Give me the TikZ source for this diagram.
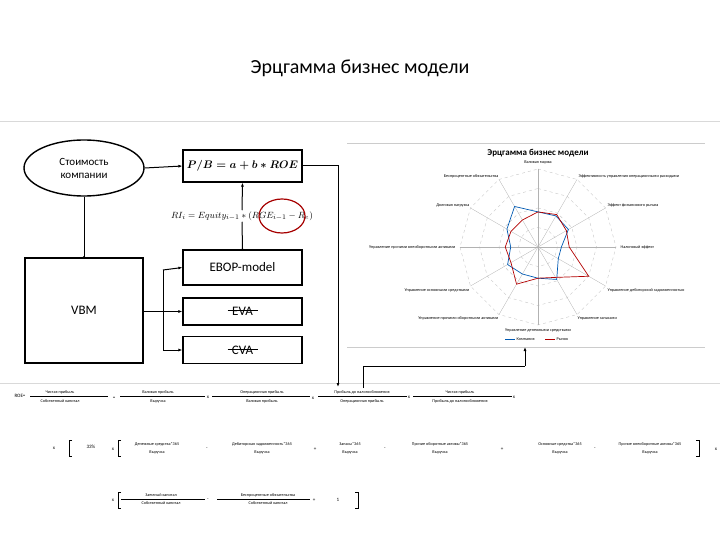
\documentclass[tikz,border=0pt]{standalone}
\usepackage{fontspec}
\setmainfont{Carlito}
\usetikzlibrary{shapes.geometric,arrows.meta}
\begin{document}
\begin{tikzpicture}[x=1pt,y=-1pt,
  box/.style={draw,line width=1.2pt,minimum width=119pt,inner sep=0pt,font=\fontsize{13}{14}\selectfont},
  conn/.style={line width=1pt},
  arr/.style={line width=1pt,-{Latex[length=4pt,width=3pt]}},
  tiny/.style={font=\fontsize{4.2}{5}\selectfont,inner sep=0.5pt},
  op/.style={font=\fontsize{5}{6}\selectfont,inner sep=0.5pt}]
\useasboundingbox (0,0) rectangle (720,540);
\node (title) at (360,68) {\fontsize{20}{22}\selectfont Эрцгамма бизнес модели};
\draw[gray!30,line width=0.8pt] (0,121) -- (720,121);
\draw[gray!30,line width=0.8pt] (0,383) -- (720,383);
% left diagram
\node[ellipse,draw,line width=1.4pt,minimum width=120pt,minimum height=56pt,align=center,font=\fontsize{11}{13}\selectfont,inner sep=0pt] (cost) at (84,168) {Стоимость\\компании};
\node[box,minimum height=32pt,font={\fontsize{11}{13}\selectfont\boldmath}] (pb) at (242.5,166) {$P/B=a+b*ROE$};
\node[inner sep=1pt,font=\fontsize{9.5}{12}\selectfont] (ri) at (242,216) {$RI_i=Equity_{i-1}*(RGE_{i-1}-R_e)$};
\draw[red!65!black,line width=1.2pt] (282,216) ellipse (23pt and 17pt);
\node[box,minimum width=118pt,minimum height=105pt] (vbm) at (84,310.5) {VBM};
\node[box,minimum height=35pt] (ebop) at (242.5,267.5) {EBOP-model};
\node[box,minimum height=27pt] (eva) at (242.5,311.5) {EVA};
\node[box,minimum height=27pt] (cva) at (242.5,350) {CVA};
\draw[line width=0.8pt] ([xshift=-15pt,yshift=1pt]eva.center) -- ([xshift=15pt,yshift=1pt]eva.center);
\draw[line width=0.8pt] ([xshift=-15pt,yshift=1pt]cva.center) -- ([xshift=15pt,yshift=1pt]cva.center);
\draw[arr] (cost.east) -- (pb.west);
\draw[conn] (cost.south) -- (vbm.north);
\fill (vbm.north) circle (1.5pt);
\draw[conn] (ebop.north) -- (ri.south);
\fill (ebop.north) circle (1.2pt);
\draw[arr] (ri.north) -- (pb.south);
\draw[arr] (vbm.east |- eva.west) -- (eva.west);
\draw[arr] (163,270) -- (ebop.west);
\draw[arr] (163,350) -- (cva.west);
\draw[conn] (163,270) -- (163,350);
\coordinate (rdown) at (338,387);
\draw[conn] (pb.east) -| (338,300);
\draw[arr] (338,300) -- (rdown);
% radar chart
\draw[gray!40,line width=0.6pt] (347,143) -- (705,143);
\draw[gray!40,line width=0.6pt] (347,347) -- (705,347);
\node[font=\bfseries\fontsize{9}{10}\selectfont] (ctitle) at (538,153) {Эрцгамма бизнес модели};
\def\R{78}
\foreach \r in {0.25,0.5,0.75,1}{
  \draw[gray!45,dashed,line width=0.4pt] plot[samples at={0,30,...,360}] ({538+\r*\R*sin(\x)},{247-\r*\R*cos(\x)});
}
\foreach \a in {0,30,...,330}{
  \draw[gray!60,line width=0.3pt] (538,247) -- ({538+\R*sin(\a)},{247-\R*cos(\a)});
}
\draw[blue!50!cyan!70!black,line width=0.7pt] plot coordinates {
 ({538+0.45*\R*sin(0)},{247-0.45*\R*cos(0)})
 ({538+0.46*\R*sin(30)},{247-0.46*\R*cos(30)})
 ({538+0.45*\R*sin(60)},{247-0.45*\R*cos(60)})
 ({538+0.30*\R*sin(90)},{247-0.30*\R*cos(90)})
 ({538+0.30*\R*sin(120)},{247-0.30*\R*cos(120)})
 ({538+0.48*\R*sin(150)},{247-0.48*\R*cos(150)})
 ({538+0.40*\R*sin(180)},{247-0.40*\R*cos(180)})
 ({538+0.40*\R*sin(210)},{247-0.40*\R*cos(210)})
 ({538+0.45*\R*sin(240)},{247-0.45*\R*cos(240)})
 ({538+0.35*\R*sin(270)},{247-0.35*\R*cos(270)})
 ({538+0.46*\R*sin(300)},{247-0.46*\R*cos(300)})
 ({538+0.60*\R*sin(330)},{247-0.60*\R*cos(330)})
 ({538+0.45*\R*sin(360)},{247-0.45*\R*cos(360)})};
\draw[red!70!black,line width=0.7pt] plot coordinates {
 ({538+0.45*\R*sin(0)},{247-0.45*\R*cos(0)})
 ({538+0.48*\R*sin(30)},{247-0.48*\R*cos(30)})
 ({538+0.42*\R*sin(60)},{247-0.42*\R*cos(60)})
 ({538+0.40*\R*sin(90)},{247-0.40*\R*cos(90)})
 ({538+0.75*\R*sin(120)},{247-0.75*\R*cos(120)})
 ({538+0.45*\R*sin(150)},{247-0.45*\R*cos(150)})
 ({538+0.40*\R*sin(180)},{247-0.40*\R*cos(180)})
 ({538+0.55*\R*sin(210)},{247-0.55*\R*cos(210)})
 ({538+0.40*\R*sin(240)},{247-0.40*\R*cos(240)})
 ({538+0.42*\R*sin(270)},{247-0.42*\R*cos(270)})
 ({538+0.40*\R*sin(300)},{247-0.40*\R*cos(300)})
 ({538+0.40*\R*sin(330)},{247-0.40*\R*cos(330)})
 ({538+0.45*\R*sin(360)},{247-0.45*\R*cos(360)})};
\node[tiny] at (538,162) {Валовая маржа};
\node[tiny,anchor=west] at (578,176) {Эффективность управления операционными расходами};
\node[tiny,anchor=west] at (607,205) {Эффект финансового рычага};
\node[tiny,anchor=west] at (620,247) {Налоговый эффект};
\node[tiny,anchor=west] at (607,290) {Управление дебиторской задолженностью};
\node[tiny,anchor=west] at (577,318) {Управление запасами};
\node[tiny] at (538,330) {Управление денежными средствами};
\node[tiny,anchor=east] at (499,318) {Управление прочими оборотными активами};
\node[tiny,anchor=east] at (470,290) {Управление основными средствами};
\node[tiny,anchor=east] at (456,247) {Управление прочими внеоборотными активами};
\node[tiny,anchor=east] at (470,205) {Долговая нагрузка};
\node[tiny,anchor=east] at (499,176) {Беспроцентные обязательства};
\draw[blue!50!cyan!70!black,line width=0.7pt] (505,339) -- (515,339);
\node[tiny,anchor=west] at (516,339) {Компания};
\draw[red!70!black,line width=0.7pt] (545,339) -- (555,339);
\node[tiny,anchor=west] at (556,339) {Рынок};
% connector from formula to chart
\coordinate (cb) at (525,347);
\draw[conn] (363,388) -- (363,366) -- (525,366);
\draw[arr] (525,366) -- (cb);
% formula row 1
\node[op] (roe) at (20,396) {ROE=};
\node[tiny] (n1) at (60,392) {Чистая прибыль};
\node[tiny] (d1) at (60,401) {Собственный капитал};
\draw[line width=0.4pt] (30,396) -- (108,396);
\node[op] at (114,398) {=};
\node[tiny] at (158,392) {Валовая прибыль};
\node[tiny] at (158,401) {Выручка};
\draw[line width=0.4pt] (120,396) -- (205,396);
\node[op] at (208,397) {x};
\node[tiny] at (262,392) {Операционная прибыль};
\node[tiny] at (262,401) {Валовая прибыль};
\draw[line width=0.4pt] (212,396) -- (310,396);
\node[op] at (313,398) {x};
\node[tiny] at (362,392) {Прибыль до налогообложения};
\node[tiny] at (362,401) {Операционная прибыль};
\draw[line width=0.4pt] (318,396) -- (407,396);
\node[op] at (409,397) {x};
\node[tiny] at (460,392) {Чистая прибыль};
\node[tiny] at (460,401) {Прибыль до налогообложения};
\draw[line width=0.4pt] (413,396) -- (512,396);
\node[op] at (514,397) {x};
% formula row 2
\node[op] at (54,448) {x};
\draw[line width=0.5pt] (72,440) -- (69,440) -- (69,456) -- (72,456);
\node[op] at (91,447) {33\%};
\node[op] at (113,449) {x};
\draw[line width=0.5pt] (121,440) -- (118,440) -- (118,456) -- (121,456);
\node[tiny] at (157,444) {Денежные средства*365};
\node[tiny] at (157,452) {Выручка};
\node[op] at (207,449) {-};
\node[tiny] at (262,444) {Дебиторская задолженность*365};
\node[tiny] at (262,452) {Выручка};
\node[op] at (315,449) {+};
\node[tiny] at (350,444) {Запасы*365};
\node[tiny] at (350,452) {Выручка};
\node[op] at (385,449) {-};
\node[tiny] at (440,444) {Прочие оборотные активы*365};
\node[tiny] at (440,452) {Выручка};
\node[op] at (502,449) {+};
\node[tiny] at (560,444) {Основные средства*365};
\node[tiny] at (560,452) {Выручка};
\node[op] at (595,449) {-};
\node[tiny] at (650,444) {Прочие внеоборотные активы*365};
\node[tiny] at (650,452) {Выручка};
\draw[line width=0.5pt] (696,440) -- (699,440) -- (699,456) -- (696,456);
\node[op] at (716,449) {x};
% formula row 3
\node[op] at (113,500) {x};
\draw[line width=0.5pt] (121,492) -- (118,492) -- (118,508) -- (121,508);
\node[tiny] at (161,495) {Заемный капитал};
\node[tiny] at (161,503) {Собственный капитал};
\draw[line width=0.4pt] (121,499) -- (205,499);
\node[op] at (208,500) {-};
\node[tiny] at (268,495) {Беспроцентные обязательства};
\node[tiny] at (268,503) {Собственный капитал};
\draw[line width=0.4pt] (217,499) -- (310,499);
\node[op] at (314,500) {+};
\node[op] at (338,500) {1};
\draw[line width=0.5pt] (355,492) -- (358,492) -- (358,508) -- (355,508);
\end{tikzpicture}
\end{document}
